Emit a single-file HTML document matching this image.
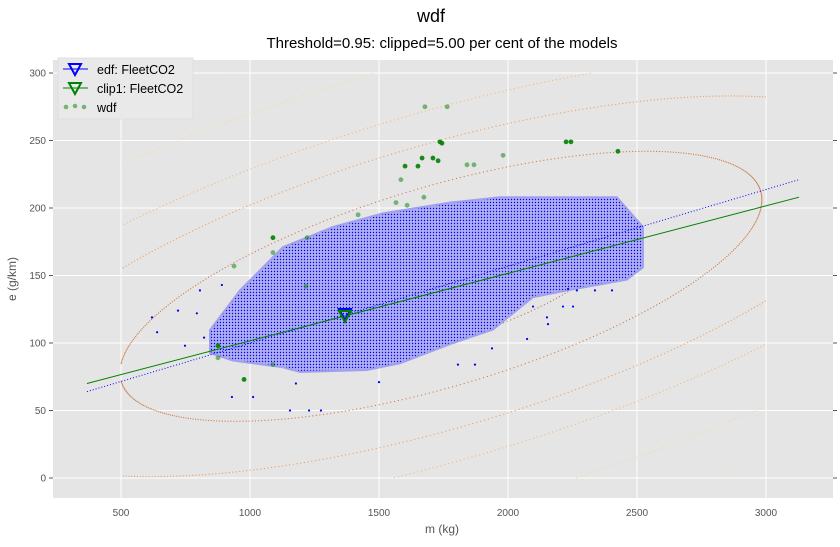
<!DOCTYPE html>
<html><head><meta charset="utf-8"><style>
body{margin:0;background:#fff;}
svg text{font-family:"Liberation Sans",sans-serif;}
</style></head><body>
<svg id="chart" width="840" height="542" xmlns="http://www.w3.org/2000/svg">
<defs>
<pattern id="dots" width="3" height="3" patternUnits="userSpaceOnUse">
<rect width="3" height="3" fill="#b0b0f0"/><circle cx="1.5" cy="1.5" r="0.7" fill="#0000ee"/></pattern>
<clipPath id="plotclip"><rect x="53" y="60" width="780" height="438"/></clipPath>
</defs>
<text x="431" y="22" font-size="18" text-anchor="middle" fill="#000">wdf</text>
<text x="442" y="48" font-size="15" text-anchor="middle" fill="#000">Threshold=0.95: clipped=5.00 per cent of the models</text>
<rect x="53" y="60" width="780" height="438" fill="#e5e5e5"/>
<g id="grid"></g>
<g id="ticks"></g>
<g id="marks" clip-path="url(#plotclip)"></g>
<text x="442" y="533" font-size="12" text-anchor="middle" fill="#555">m (kg)</text>
<text x="16" y="279" font-size="12" text-anchor="middle" fill="#555" transform="rotate(-90 16 279)">e (g/km)</text>
<g>
<rect x="58" y="58" width="135" height="61" fill="#e9e9e9" stroke="#dcdcdc" stroke-width="0.8"/>
<g>
<line x1="63" y1="69" x2="88" y2="69" stroke="#0000ff" stroke-width="1"/>
<polygon points="69,64 81,64 75,75" fill="none" stroke="#0000ff" stroke-width="2"/>
<text x="97" y="74" font-size="12.5" fill="#000">edf: FleetCO2</text></g>
<g>
<line x1="63" y1="88" x2="88" y2="88" stroke="#008000" stroke-width="1"/>
<polygon points="69,83 81,83 75,94" fill="none" stroke="#008000" stroke-width="2"/>
<text x="97" y="93" font-size="12.5" fill="#000">clip1: FleetCO2</text></g>
<g>
<circle cx="66" cy="107" r="2.3" fill="#008000" opacity="0.5"/><circle cx="75" cy="106" r="2.3" fill="#008000" opacity="0.5"/><circle cx="84" cy="107" r="2.3" fill="#008000" opacity="0.5"/>
<text x="97" y="112" font-size="12.5" fill="#000">wdf</text></g>
</g>
</svg>
<script>
const xTicks=[500,1000,1500,2000,2500,3000];
const yTicks=[0,50,100,150,200,250,300];
const cloudM=[845,845,961,1128,1322,1515,1775,1969,2422,2523,2523,2461,2229,2097,1942,1787,1581,1453,1194,1128,934];
const cloudE=[92.6,109.6,139,171,186,196,204,208,208,186,156,147,139,134,110,100,85,80,78.5,82,87];
const outM=[620,640,721,748,794,822,930,1012,1155,1229,1275,1178,1500,806,891,2233,2267,2337,2403,2252,2213,2151,2155,2097,2074,1938,1872,1806];
const outE=[119,108,124,98,122,104,60,60,50,50,50,70,71,139,143,140,139,139,139,127,127,119,114,127,103,96,84,84];
const wdfM=[1678,1764,1736,1744,1601,1651,1667,1709,1729,1841,1868,1981,2225,2244,2426,1585,1674,1566,1609,1419,1089,1221,938,1089,1217,977,876,876,1089];
const wdfE=[275,275,249,248,231,231,237,237,235,232,232,239,249,249,242,221,208,204,202,195,178,178,157,167,142,73,98,89,84];
const wdfDark=[0,0,1,1,1,1,1,1,1,0,0,0,1,1,1,0,0,0,0,0,1,0,0,0,0,1,1,0,0];
const lineM=[368,3128];
const clipLineE=[70,208];
const edfLineE=[64,221];
const centroidM=[1368];
const centroidE=[120];
const levels=[0.55,1,1.41,1.73,2.24,2.65];
const levelColors=['#b06038','#c86a30','#f09040','#f8b060','#fcd48c','#fde8bc'];
const ellCx=1740, ellCy=142, ellSm=1244, ellSe=100, ellRho=0.64;

const X=m=>-8+m*0.258;
const Y=e=>478-e*1.35;
const NS='http://www.w3.org/2000/svg';
function mk(tag,attrs,parent){const el=document.createElementNS(NS,tag);for(const k in attrs)el.setAttribute(k,attrs[k]);parent.appendChild(el);return el;}
const grid=document.getElementById('grid'),ticks=document.getElementById('ticks'),marks=document.getElementById('marks');
xTicks.forEach(t=>{
  const l=mk('line',{x1:X(t),x2:X(t),y1:60,y2:498,stroke:'#fff','stroke-width':1},grid);
  
  
  const tx=mk('text',{x:X(t),y:516,'font-size':10,'text-anchor':'middle',fill:'#555'},ticks);
  tx.textContent=t;
  
  
});
yTicks.forEach(t=>{
  const l=mk('line',{x1:53,x2:833,y1:Y(t),y2:Y(t),stroke:'#fff','stroke-width':1},grid);
  
  
  mk('line',{x1:49,x2:53,y1:Y(t),y2:Y(t),stroke:'#555','stroke-width':1},ticks);
  mk('line',{x1:833,x2:837,y1:Y(t),y2:Y(t),stroke:'#555','stroke-width':1},ticks);
  const tx=mk('text',{x:46,y:Y(t)+3.5,'font-size':10,'text-anchor':'end',fill:'#555'},ticks);
  tx.textContent=t;
  
  
});
// contour ellipses
levels.forEach((s,i)=>{
  const g=mk('g',{fill:levelColors[i],opacity:0.85},marks);
  
  
  const n=Math.round(520*s);
  for(let k=0;k<n;k++){
    const th=2*Math.PI*k/n;
    const m=ellCx+s*ellSm*Math.cos(th);
    const e=ellCy+s*ellSe*(ellRho*Math.cos(th)+Math.sqrt(1-ellRho*ellRho)*Math.sin(th));
    if(m<500||m>3000||e<0||e>300)continue;
    mk('rect',{x:X(m)-0.55,y:Y(e)-0.55,width:1.1,height:1.1},g);
  }
});
// cloud
const cloud=mk('polygon',{points:cloudM.map((m,i)=>X(m)+','+Y(cloudE[i])).join(' '),fill:'url(#dots)',stroke:'#a0a0ee','stroke-width':2},marks);


outM.forEach((m,i)=>{
  const c=mk('circle',{cx:X(m),cy:Y(outE[i]),r:1.1,fill:'#0000ee'},marks);
  
  
});
// regression lines
const bl=mk('line',{x1:X(lineM[0]),y1:Y(edfLineE[0]),x2:X(lineM[1]),y2:Y(edfLineE[1]),stroke:'#0000ff','stroke-width':1,'stroke-dasharray':'1 2'},marks);


const gl=mk('line',{x1:X(lineM[0]),y1:Y(clipLineE[0]),x2:X(lineM[1]),y2:Y(clipLineE[1]),stroke:'#008000','stroke-width':1},marks);


// wdf points
wdfM.forEach((m,i)=>{
  const c=mk('circle',{cx:X(m),cy:Y(wdfE[i]),r:2.4,fill:'#008000',opacity:wdfDark[i]?0.9:0.5},marks);
  
  
});
// centroid markers
centroidM.forEach((m,i)=>{
  const cx=X(m),cy=Y(centroidE[i]);
  const b=mk('polygon',{points:`${cx-6},${cy-7} ${cx+6},${cy-7} ${cx},${cy+4}`,fill:'none',stroke:'#0000ff','stroke-width':2},marks);
  
  
  const g=mk('polygon',{points:`${cx-6},${cy-5} ${cx+6},${cy-5} ${cx},${cy+6}`,fill:'none',stroke:'#008000','stroke-width':2},marks);
  
  
});
</script>
</body></html>
